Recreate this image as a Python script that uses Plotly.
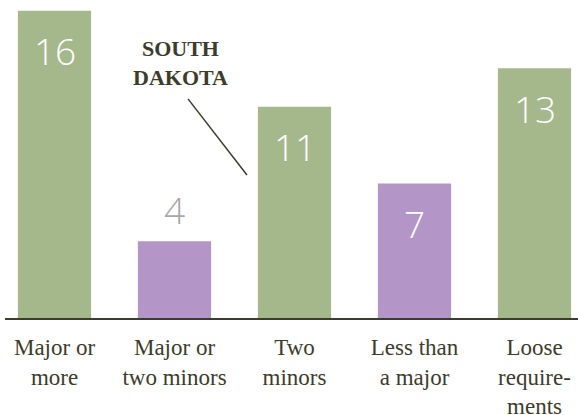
import plotly.graph_objects as go

categories = ["Major or<br>more", "Major or<br>two minors", "Two<br>minors", "Less than<br>a major", "Loose<br>require-<br>ments"]
values = [16, 4, 11, 7, 13]
colors = ["#a5b88c", "#b495c7", "#a5b88c", "#b495c7", "#a5b88c"]
label_inside = [True, False, True, True, True]

x = list(range(len(categories)))

fig = go.Figure()
fig.add_trace(go.Bar(x=x, y=values, marker=dict(color=colors, line=dict(width=0)),
                     width=0.61, hoverinfo="skip"))

for xi, v, inside in zip(x, values, label_inside):
    fig.add_annotation(x=xi, y=v, text=str(v), showarrow=False,
                       yshift=-40 if inside else 32,
                       font=dict(family="Open Sans", size=37, weight=300,
                                 color="white" if inside else "#a8a8a8"))

fig.add_annotation(x=1.05, y=13.27, text="<b>SOUTH<br>DAKOTA</b>", showarrow=False,
                   font=dict(family="Liberation Serif", size=22, color="#3c3c2c"))
fig.add_shape(type="line", x0=1.1125, y0=11.41, x1=1.604, y1=7.45,
              line=dict(color="#3c3c2c", width=1.5))

fig.update_layout(
    width=578, height=415,
    margin=dict(l=5, r=0, t=0, b=97, autoexpand=False),
    plot_bgcolor="white", paper_bgcolor="white",
    showlegend=False,
    bargap=0.4,
)
fig.update_xaxes(range=[-0.4125, 4.3625], tickvals=x, ticktext=categories,
                 showline=True, linecolor="#3c3c2c", linewidth=2,
                 showgrid=False, ticks="", zeroline=False, automargin=False,
                 ticklabelstandoff=7,
                 tickfont=dict(family="Liberation Serif", size=23, color="#3c3c2c"))
fig.update_yaxes(range=[0, 16.56], visible=False, showgrid=False, zeroline=False,
                 automargin=False)

fig.write_html("out.html", config={"displayModeBar": False},
               post_script="document.body.style.margin='0';")
